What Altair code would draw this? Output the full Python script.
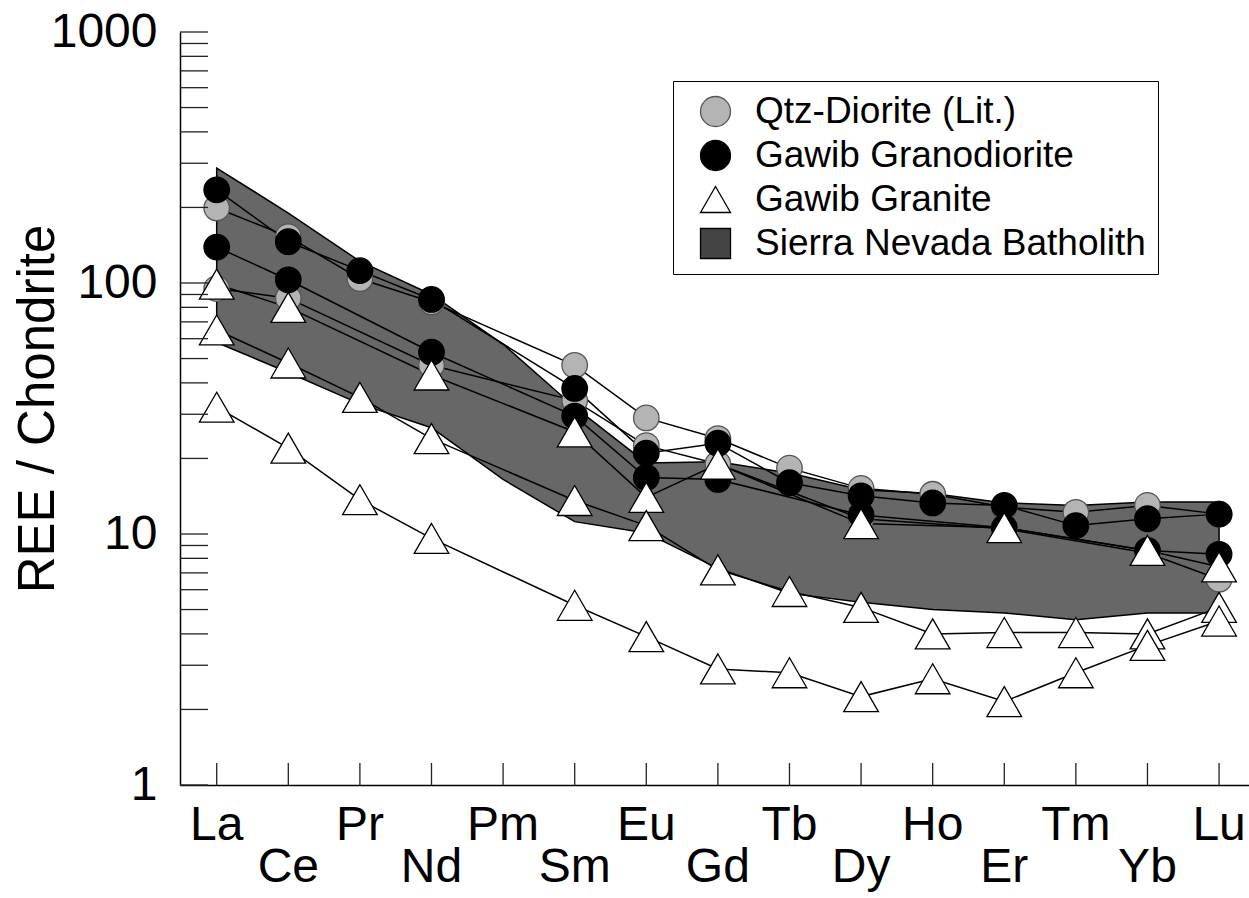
import altair as alt
import pandas as pd

FONT = "Liberation Sans"

elements = ["La", "Ce", "Pr", "Nd", "Pm", "Sm", "Eu", "Gd", "Tb", "Dy", "Ho", "Er", "Tm", "Yb", "Lu"]

groups = ["Qtz-Diorite (Lit.)", "Gawib Granodiorite", "Gawib Granite", "Sierra Nevada Batholith"]

# Qtz-Diorite (literature) samples
qtz_diorite_a = [199, 153, 104, 84, None, 47, 29, 24, 18.3, 15.2, 14.4, 12.8, 12.2, 13.0, 12.0]
qtz_diorite_b = [95, 87, None, 47, None, 34, 22.5, 19, None, 11.5, None, 10.5, None, 8.4, 6.6]

# Gawib Granodiorite samples
granodiorite_a = [235, 146, 112, 86, None, 38, 21, 23, 16, 14.2, 13.3, 13.0, 10.8, 11.5, 12.0]
granodiorite_b = [139, 103, None, 53, None, 29.5, 16.8, 16.5, None, 11.9, None, 10.6, None, 8.6, 8.3]

# Gawib Granite samples
granite_a = [99, 80, None, 43, None, 25.5, 14, 19, None, 11, None, 10.6, None, 8.6, 7.4]
granite_b = [65, 48, 35, 24, None, 13.6, 10.8, 7.2, 5.9, 5.1, 4.0, 4.05, 4.05, 4.0, 5.1]
granite_c = [32, 22, 13.7, 9.6, None, 5.2, 3.9, 2.9, 2.8, 2.25, 2.65, 2.15, 2.8, 3.6, 4.5]

# Sierra Nevada Batholith field
snb_upper = [287, 190, 122, 90, 57, 32, 19.2, 19.4, 17.5, 15.0, 14.5, 13.3, 13.0, 13.4, 13.4]
snb_lower = [58, 44, 33, 26.5, 16.5, 11.2, 10.1, 7.3, 5.8, 5.35, 5.0, 4.85, 4.55, 4.85, 4.85]

y_tick_values = [1, 2, 3, 4, 5, 6, 7, 8, 9,
                 10, 20, 30, 40, 50, 60, 70, 80, 90,
                 100, 200, 300, 400, 500, 600, 700, 800, 900, 1000]

series = [
    ("qd_a", groups[0], qtz_diorite_a),
    ("qd_b", groups[0], qtz_diorite_b),
    ("gd_a", groups[1], granodiorite_a),
    ("gd_b", groups[1], granodiorite_b),
    ("gr_a", groups[2], granite_a),
    ("gr_b", groups[2], granite_b),
    ("gr_c", groups[2], granite_c),
]

rows = []
for name, grp, vals in series:
    for i, v in enumerate(vals):
        if v is not None:
            rows.append({"series": name, "group": grp, "i": i, "el": elements[i], "v": v})
pts = pd.DataFrame(rows)

band = pd.DataFrame({"i": list(range(len(elements))), "v": snb_upper, "v2": snb_lower})
labels = pd.DataFrame({"i": list(range(len(elements))), "el": elements})
yticks = pd.DataFrame({"v": y_tick_values})

W, H = 1069, 753

X = alt.X(
    "i:Q",
    scale=alt.Scale(domain=[-0.5126, 14.418], nice=False, zero=False),
    axis=alt.Axis(labels=False, ticks=False, grid=False, title=None,
                  domainColor="black", domainWidth=1.5),
)
Y = alt.Y(
    "v:Q",
    scale=alt.Scale(type="log", domain=[1, 1000], nice=False),
    axis=alt.Axis(values=[1, 10, 100, 1000], format="d", grid=False, ticks=False, tickSize=0,
                  labelFontSize=48, labelFont=FONT, labelColor="black", labelPadding=23,
                  domainColor="black", domainWidth=1.5,
                  title="REE / Chondrite", titleFontSize=51, titleFont=FONT,
                  titleFontWeight="normal", titleColor="black",
                  titleX=-127, titleY=376.5, titleAngle=270, titleAlign="center",
                  titleBaseline="alphabetic"),
)

legend = alt.Legend(
    title=None, orient="none", legendX=493, legendY=49,
    strokeColor="black", fillColor="white", padding=12, symbolOffset=12,
    labelFontSize=37, labelFont=FONT, labelColor="black", labelOffset=21, labelLimit=600,
    symbolSize=900, symbolStrokeWidth=1.3,
    rowPadding=6, cornerRadius=0,
)

band_layer = alt.Chart(band).mark_area(
    fill="#676767", stroke="black", strokeWidth=1.5, opacity=1
).encode(x=X, y=Y, y2="v2:Q")

line_layer = alt.Chart(pts).mark_line(color="black", strokeWidth=1.5).encode(
    x=X, y=Y, detail="series:N", order="i:Q"
)

point_layer = alt.Chart(pts).mark_point(
    filled=True, opacity=1, strokeWidth=1.3, size=650
).encode(
    x=X, y=Y,
    shape=alt.Shape("group:N", scale=alt.Scale(domain=groups, range=["circle", "circle", "triangle-up", "square"]), legend=legend),
    fill=alt.Fill("group:N", scale=alt.Scale(domain=groups, range=["#b4b4b4", "#000000", "#ffffff", "#444444"]), legend=legend),
    stroke=alt.Stroke("group:N", scale=alt.Scale(domain=groups, range=["#555555", "#000000", "#000000", "#000000"]), legend=legend),
)

triangle_layer = alt.Chart(pts).transform_filter(
    alt.datum.group == groups[2]
).mark_point(
    shape="triangle-up", filled=True, opacity=1, fill="white", stroke="black",
    strokeWidth=1.3, size=1200
).encode(x=X, y=Y)

ytick_layer = alt.Chart(yticks).mark_rule(color="#222", strokeWidth=1.3).encode(
    y=Y, x=alt.value(0), x2=alt.value(28)
)

xtick_layer = alt.Chart(labels).mark_rule(color="#222", strokeWidth=1.3).encode(
    x=X, y=alt.value(H), y2=alt.value(H - 22)
)

top_labels = alt.Chart(labels).transform_filter("datum.i % 2 == 0").mark_text(
    font=FONT, fontSize=48, baseline="alphabetic", align="center", color="black"
).encode(x=X, y=alt.value(H + 55), text="el:N")

bottom_labels = alt.Chart(labels).transform_filter("datum.i % 2 == 1").mark_text(
    font=FONT, fontSize=48, baseline="alphabetic", align="center", color="black"
).encode(x=X, y=alt.value(H + 97), text="el:N")

chart = alt.layer(
    band_layer, line_layer, point_layer, triangle_layer, ytick_layer, xtick_layer,
    top_labels, bottom_labels
).properties(
    width=W, height=H,
    padding={"left": 180, "top": 32, "right": 0, "bottom": 113},
    autosize=alt.AutoSizeParams(type="none"),
).configure_view(stroke=None)

chart.save("out.html", embed_options={"renderer": "svg", "actions": False})
